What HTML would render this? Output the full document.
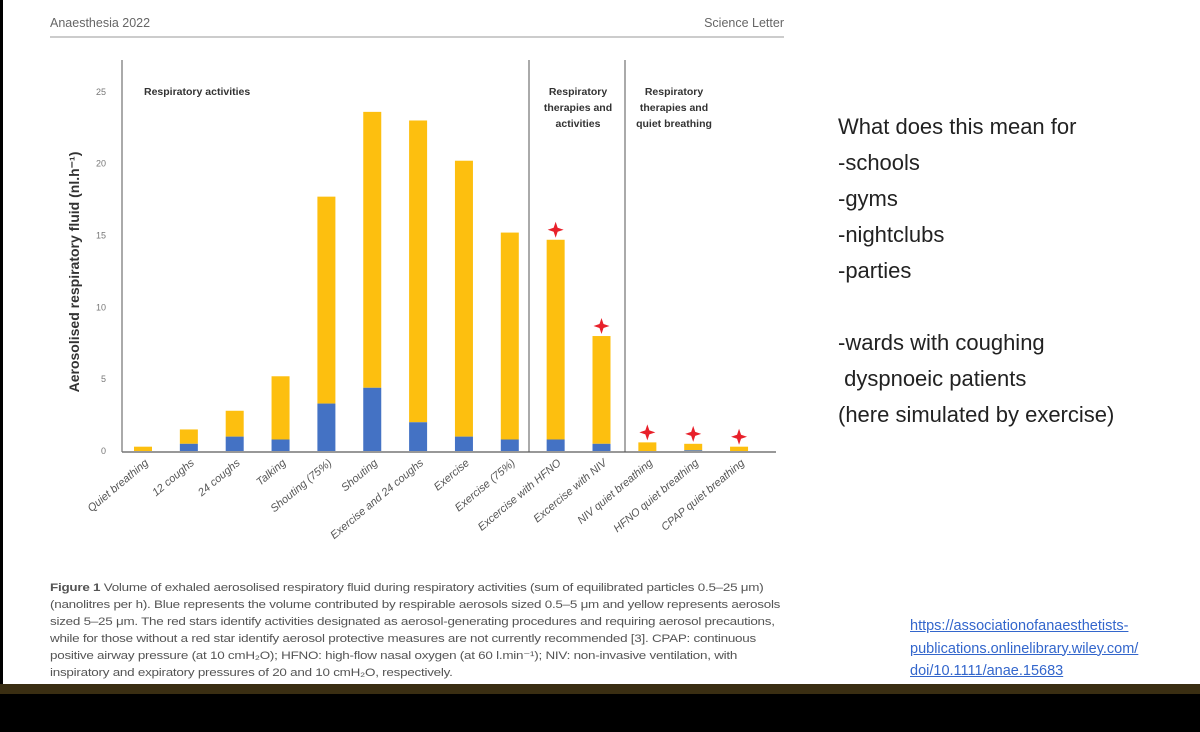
<!DOCTYPE html>
<html><head><meta charset="utf-8"><style>
body{margin:0;width:1200px;height:732px;background:#000;overflow:hidden;font-family:"Liberation Sans",sans-serif}
#slide{position:absolute;left:3px;top:0;width:1197px;height:684px;background:#fff}
#band{position:absolute;left:0;top:684px;width:1200px;height:10px;background:#3a2e12}
.rt{position:absolute;left:838px;font-size:22px;color:#222;line-height:36px;top:109px}
.cap{position:absolute;left:50px;top:580px;font-size:11px;line-height:17px;color:#555;white-space:nowrap;letter-spacing:-0.2px;transform:scaleX(1.22);transform-origin:0 0}
.link{position:absolute;left:910px;top:615px;font-size:14.5px;line-height:22.5px;color:#3366cc;text-decoration:underline}
</style></head><body>
<div id="slide"></div>
<div id="band"></div>
<svg width="1200" height="684" style="position:absolute;left:0;top:0">
<text x="50" y="27" font-size="12.5" fill="#666">Anaesthesia 2022</text>
<text x="784" y="27" font-size="12.5" fill="#666" text-anchor="end">Science Letter</text>
<line x1="50" y1="37" x2="784" y2="37" stroke="#999" stroke-width="1"/>
<g id="plot"></g>
</svg>
<div class="rt">What does this mean for<br>-schools<br>-gyms<br>-nightclubs<br>-parties<br><br>-wards with coughing<br>&nbsp;dyspnoeic patients<br>(here simulated by exercise)</div>
<div class="cap"><b>Figure 1</b> Volume of exhaled aerosolised respiratory fluid during respiratory activities (sum of equilibrated particles 0.5–25 μm)<br>(nanolitres per h). Blue represents the volume contributed by respirable aerosols sized 0.5–5 μm and yellow represents aerosols<br>sized 5–25 μm. The red stars identify activities designated as aerosol-generating procedures and requiring aerosol precautions,<br>while for those without a red star identify aerosol protective measures are not currently recommended [3]. CPAP: continuous<br>positive airway pressure (at 10 cmH₂O); HFNO: high-flow nasal oxygen (at 60 l.min⁻¹); NIV: non-invasive ventilation, with<br>inspiratory and expiratory pressures of 20 and 10 cmH₂O, respectively.</div>
<div class="link">https://associationofanaesthetists-<br>publications.onlinelibrary.wiley.com/<br>doi/10.1111/anae.15683</div>
<script>
const categories=["Quiet breathing","12 coughs","24 coughs","Talking","Shouting (75%)","Shouting","Exercise and 24 coughs","Exercise","Exercise (75%)","Excercise with HFNO","Excercise with NIV","NIV quiet breathing","HFNO quiet breathing","CPAP quiet breathing"];
const totals=[0.3,1.5,2.8,5.2,17.7,23.6,23.0,20.2,15.2,14.7,8.0,0.6,0.5,0.3];
const blue=[0,0.5,1.0,0.8,3.3,4.4,2.0,1.0,0.8,0.8,0.5,0,0.05,0];
const stars=[0,0,0,0,0,0,0,0,0,1,1,1,1,1];
const yTicks=[0,5,10,15,20,25];
const ns="http://www.w3.org/2000/svg";
const g=document.getElementById('plot');
const y=v=>451-v*14.37;
const x=i=>143+i*45.85;
function mk(t,a){const e=document.createElementNS(ns,t);for(const k in a)e.setAttribute(k,a[k]);g.appendChild(e);return e;}
let e;
e=mk('line',{x1:122,y1:60,x2:122,y2:452,stroke:'#555'});


e=mk('line',{x1:122,y1:452,x2:776,y2:452,stroke:'#777','stroke-width':1.5});


[529,625].forEach(px=>{e=mk('line',{x1:px,y1:60,x2:px,y2:452,stroke:'#555'});

});
yTicks.forEach(t=>{e=mk('text',{x:106,y:y(t)+3,'font-size':9,fill:'#777','text-anchor':'end'});e.textContent=t;

});
e=mk('text',{x:0,y:0,'font-size':14,'font-weight':'bold',fill:'#333','text-anchor':'middle',transform:'translate(79,272) rotate(-90)'});
e.textContent='Aerosolised respiratory fluid (nl.h⁻¹)';


const grp=[[144,95,'Respiratory activities',null],[578,95,'Respiratory','therapies and','activities'],[674,95,'Respiratory','therapies and','quiet breathing']];
grp.forEach((gg,j)=>{const lines=gg.slice(2).filter(Boolean);lines.forEach((l,k)=>{e=mk('text',{x:gg[0],y:gg[1]+k*16,'font-size':10.5,'font-weight':'bold',fill:'#333','text-anchor':j==0?'start':'middle'});e.textContent=l;

});});
categories.forEach((c,i)=>{
 const bx=x(i)-9;
 e=mk('rect',{x:bx,y:y(totals[i]),width:18,height:y(blue[i])-y(totals[i]),fill:'#fdbf0f'});
 
 
 e=mk('rect',{x:bx,y:y(blue[i]),width:18,height:451-y(blue[i]),fill:'#4472c4'});
 
 
 if(stars[i]){const sx=x(i),sy=y(totals[i])-10;
  e=mk('path',{d:`M${sx} ${sy-8}L${sx+2} ${sy-2}L${sx+8} ${sy}L${sx+2} ${sy+2}L${sx} ${sy+8}L${sx-2} ${sy+2}L${sx-8} ${sy}L${sx-2} ${sy-2}Z`,fill:'#e8202a'});
  
  }
 e=mk('text',{x:0,y:0,'font-size':11,'font-style':'italic',fill:'#555','text-anchor':'end',transform:`translate(${x(i)+6},${464}) rotate(-40)`});
 e.textContent=c;
 
 
});
</script>
</body></html>
